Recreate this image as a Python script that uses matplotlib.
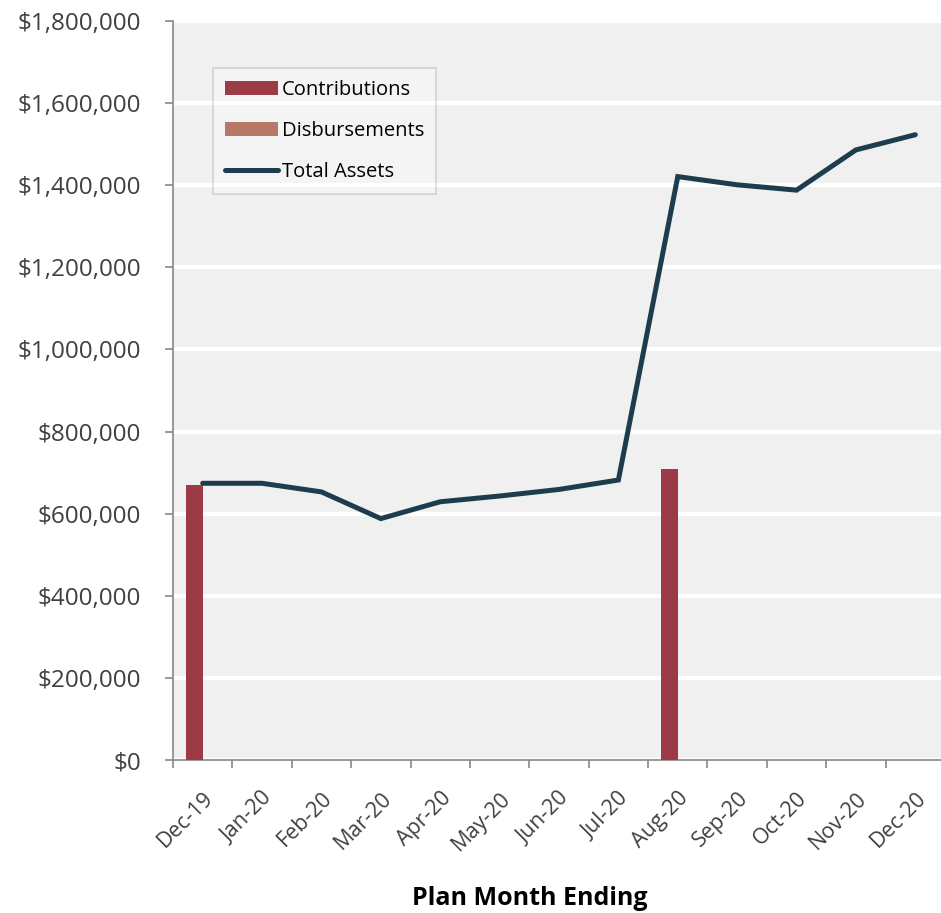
import matplotlib.pyplot as plt
import numpy as np
from matplotlib.ticker import FuncFormatter

months = ['Dec-19', 'Jan-20', 'Feb-20', 'Mar-20', 'Apr-20', 'May-20', 'Jun-20',
          'Jul-20', 'Aug-20', 'Sep-20', 'Oct-20', 'Nov-20', 'Dec-20']
contributions = [670000, 0, 0, 0, 0, 0, 0, 0, 710000, 0, 0, 0, 0]
disbursements = [0, 0, 0, 0, 0, 0, 0, 0, 0, 0, 0, 0, 0]
total_assets = [674000, 674000, 653000, 588000, 629000, 643000, 659000,
                682000, 1421000, 1401000, 1388000, 1486000, 1523000]

plt.rcParams['font.family'] = ['Open Sans', 'DejaVu Sans']

fig = plt.figure(figsize=(9.41, 9.13), dpi=100)
ax = fig.add_axes([173/941, 153/913, 772/941, 739/913])

x = np.arange(len(months))
w = 0.286
b1 = ax.bar(x - w/2, contributions, w, color='#9c3a46', label='Contributions', zorder=3)
b2 = ax.bar(x + w/2, disbursements, w, color='#b87868', label='Disbursements', zorder=3)
ln, = ax.plot(x, total_assets, color='#1d3d4e', lw=3.6, solid_capstyle='round',
              solid_joinstyle='miter', label='Total Assets', zorder=4)

ax.set_xlim(-0.5, len(months) - 0.5)
ax.set_ylim(0, 1800000)
ax.set_facecolor('#f0f0f0')
ax.set_yticks(np.arange(0, 1800001, 200000))
ax.yaxis.set_major_formatter(FuncFormatter(lambda v, p: '${:,.0f}'.format(v)))
ax.grid(axis='y', color='white', lw=3, zorder=1)
ax.set_axisbelow(True)

# labels at month centres, tick marks between months
ax.set_xticks(x)
ax.set_xticklabels(months, rotation=45, ha='right', rotation_mode='anchor')
ax.set_xticks(np.arange(-0.5, len(months), 1), minor=True)
ax.tick_params(axis='x', which='major', length=0, pad=20, labelsize=15.5, labelcolor='#404040')
ax.tick_params(axis='x', which='minor', length=6, width=1.2, color='#888888')
ax.tick_params(axis='y', length=6, width=1.2, color='#888888', pad=17,
               labelsize=17.5, labelcolor='#404040')

for s in ['top', 'right']:
    ax.spines[s].set_visible(False)
for s in ['left', 'bottom']:
    ax.spines[s].set_color('#888888')
    ax.spines[s].set_linewidth(1.2)

leg = ax.legend([b1, b2, ln], ['Contributions', 'Disbursements', 'Total Assets'],
                loc='upper left', bbox_to_anchor=(0.052, 0.937), fontsize=14.5,
                handlelength=2.6, handletextpad=0.2, labelspacing=1.05,
                fancybox=False, framealpha=0.3, borderpad=0.6, borderaxespad=0)
leg.get_frame().set_edgecolor('#888888')
leg.get_frame().set_linewidth(1.2)

fig.text(530/941, 15/913, 'Plan Month Ending', ha='center', va='center',
         fontsize=18, fontweight='bold', color='black')

plt.savefig('out.png', dpi=100)
